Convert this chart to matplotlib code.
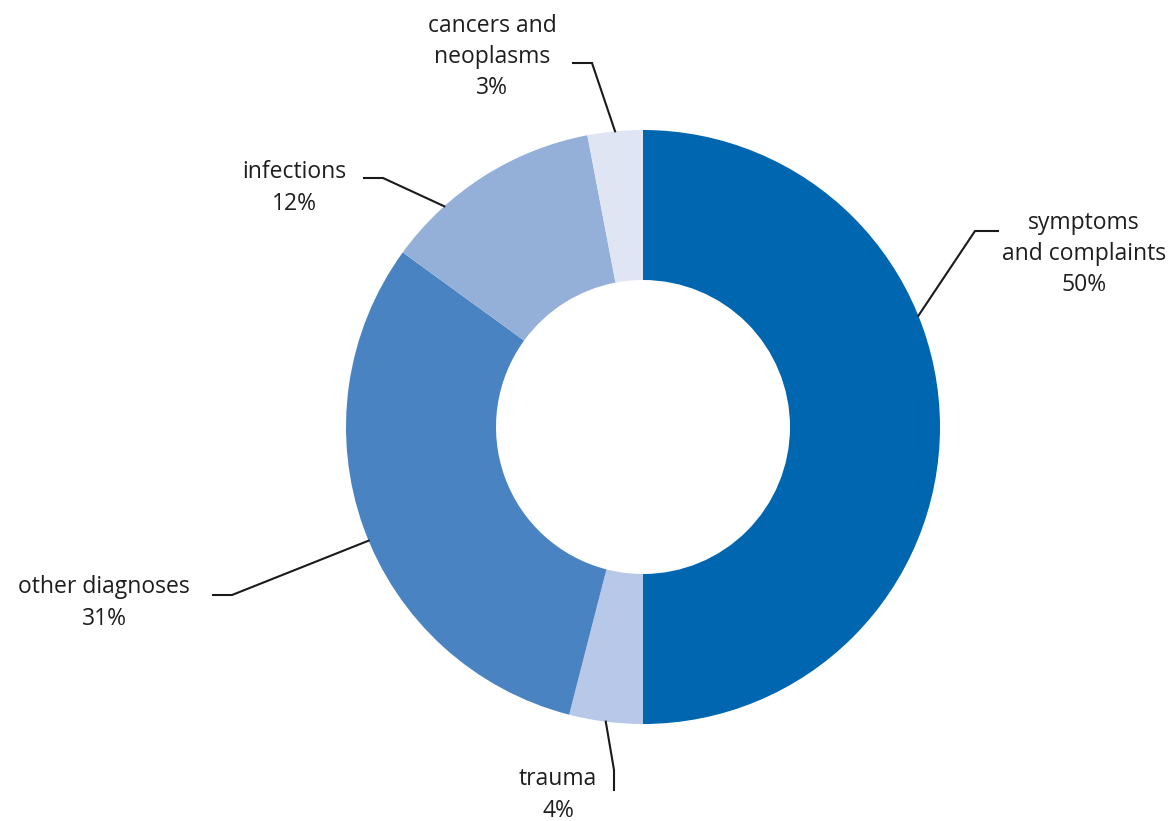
import numpy as np
import matplotlib
matplotlib.use("Agg")
import matplotlib.pyplot as plt

# ---- data ----
categories = ["symptoms\nand complaints", "trauma", "other diagnoses", "infections", "cancers and\nneoplasms"]
values = [50, 4, 31, 12, 3]
colors = ["#0066b0", "#b8c8e8", "#4a83c1", "#94afd8", "#dfe5f3"]

# ---- label layout (anchor angle on outer edge in deg, elbow, line end, text position) ----
anchor_angle = [22.0, -97.2, -157.5, 132.0, 95.4]
elbow = [(975, 231), (614, 770), (232, 595), (383, 178), (592, 63)]
line_end = [(998, 231), (614, 790), (213, 595), (364, 178), (573, 63)]
text_pos = [(1084, 254), (558, 795), (104, 603), (294, 188), (492, 57)]

W, H = 1172, 821
fig = plt.figure(figsize=(W / 100, H / 100), dpi=100)
ax = fig.add_axes([0, 0, 1, 1])

cx, cy, R, w = 643, 427, 297, 150

# y axis inverted -> counterclock=True renders clockwise on screen; startangle -90 -> top
wedges, _ = ax.pie(values, colors=colors, startangle=-90, counterclock=True,
                   center=(cx, cy), radius=R, frame=True,
                   wedgeprops=dict(width=w, linewidth=0))
ax.set_xlim(0, W)
ax.set_ylim(H, 0)
ax.set_aspect("equal")
ax.axis("off")

for lab, v, a, e, le, tp in zip(categories, values, anchor_angle, elbow, line_end, text_pos):
    px = cx + R * np.cos(np.radians(a))
    py = cy - R * np.sin(np.radians(a))
    ax.plot([px, e[0], le[0]], [py, e[1], le[1]], color="#1a1a1a", lw=1.5,
            solid_joinstyle="miter")
    ax.text(tp[0], tp[1], f"{lab}\n{v}%", ha="center", va="center",
            fontsize=16.5, color="#1e1e1e", linespacing=1.4, weight=500,
            family=["Open Sans", "DejaVu Sans"])

fig.savefig("out.png", dpi=100)
